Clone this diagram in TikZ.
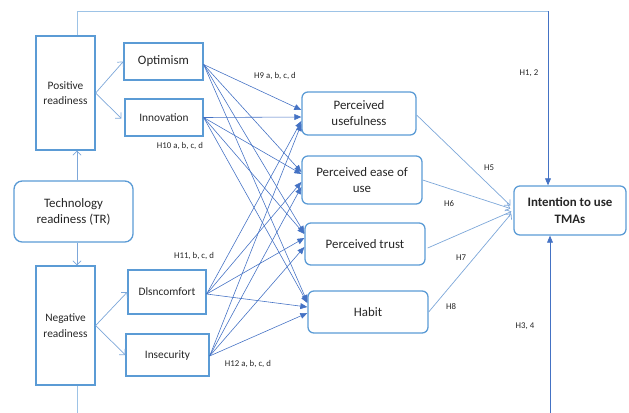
\documentclass[tikz,border=0pt]{standalone}
\usepackage{fontspec}
\setmainfont{Carlito}
\usetikzlibrary{arrows.meta,calc}
\definecolor{boxc}{HTML}{5B9BD5}
\definecolor{linec}{HTML}{4472C4}
\definecolor{lightc}{HTML}{9DC3E6}
\definecolor{midc}{HTML}{7DA7D9}
\definecolor{txt}{HTML}{262626}
\begin{document}
\begin{tikzpicture}[x=0.03cm,y=-0.03cm,
  sz/.style 2 args={minimum width=#1*0.03cm, minimum height=#2*0.03cm},
  box/.style={draw=boxc, line width=1.1pt, inner sep=0pt, align=center, text=txt, font=\fontsize{9.7}{13.4}\selectfont},
  rbox/.style={box, rounded corners=5pt, font=\fontsize{11}{13.7}\selectfont},
  big/.style={font=\fontsize{11}{13.7}\selectfont},
  lab/.style={text=txt, font=\fontsize{7.5}{9}\selectfont, inner sep=0pt},
  rel/.style={draw=linec, line width=0.5pt, -{Triangle[length=6pt,width=5pt]}},
  oarrow/.style={draw=midc, line width=0.6pt, -{Straight Barb[length=3.5pt,width=7pt]}},
  farrow/.style={draw=linec, line width=0.7pt, -{Triangle[length=6pt,width=5pt]}}
]
\clip (0,0) rectangle (629,412);
\useasboundingbox (0,0) rectangle (629,412);

% nodes
\node[box, sz={59}{114}] (pos) at (65.5,93) {Positive\\readiness};
\node[box, big, sz={79}{37}] (opt) at (163.5,61.5) {Optimism};
\node[box, sz={78}{37}] (inn) at (164,117.5) {Innovation};
\node[rbox, rounded corners=7pt, sz={119}{61}] (tr) at (73.5,211.5) {Technology\\readiness (TR)};
\node[box, sz={59}{119}] (neg) at (65.5,325.5) {Negative\\readiness};
\node[box, sz={78}{44}] (dis) at (167,292) {Dlsncomfort};
\node[box, sz={83}{42}] (ins) at (167.5,355) {Insecurity};
\node[rbox, sz={114}{43}] (pu) at (359,113.5) {Perceived\\usefulness};
\node[rbox, sz={120}{48}] (peou) at (362,180) {Perceived ease of\\use};
\node[rbox, sz={120}{42}] (pt) at (365,244) {Perceived trust};
\node[rbox, sz={120}{42}] (hab) at (368,312) {Habit};
\node[rbox, sz={112}{49}, font=\fontsize{11}{13.7}\selectfont\bfseries] (int) at (570,210.5) {Intention to use\\TMAs};

% helper coordinates
\coordinate (xl) at (77,0);
\coordinate (topc) at (548,11);
\coordinate (botc) at (550,420);

% long links
\draw[draw=lightc, line width=0.8pt] (pos.north -| xl) |- (topc);
\draw[farrow] (topc) -- (topc |- int.north);
\draw[draw=lightc, line width=0.8pt] (neg.south -| xl) |- (botc);
\draw[farrow] (botc) -- (botc |- int.south);

% TR arrows
\draw[oarrow] (tr.north -| xl) -- (pos.south -| xl);
\draw[oarrow] (tr.south -| xl) -- (neg.north -| xl);

% readiness to dimensions
\draw[oarrow] (pos.east) -- (opt.west);
\draw[oarrow] (pos.east) -- ($(inn.west)+(-3,1)$);
\draw[oarrow] (neg.east) -- (dis.west);
\draw[oarrow] (neg.east) -- (ins.west);

% dimensions to perceived
\coordinate (so) at ($(opt.east)+(0,3)$);
\coordinate (si) at ($(inn.east)+(0,0)$);
\coordinate (sd) at ($(dis.east)+(0,2)$);
\coordinate (ss) at ($(ins.east)+(0,1)$);

\draw[rel] (so) -- ($(pu.west)+(0,-3.5)$);
\draw[rel] (si) -- ($(pu.west)+(0,3.5)$);
\draw[rel] (sd) -- ($(pu.west)+(0,7.5)$);
\draw[rel] (ss) -- ($(pu.west)+(0,10.5)$);

\draw[rel] (so) -- ($(peou.west)+(0,-8)$);
\draw[rel] (si) -- ($(peou.west)+(0,-6)$);
\draw[rel] (sd) -- ($(peou.west)+(0,2)$);
\draw[rel] (ss) -- ($(peou.west)+(0,7)$);

\draw[rel] (so) -- ($(pt.west)+(0,-11)$);
\draw[rel] (si) -- ($(pt.west)+(0,-10)$);
\draw[rel] (sd) -- ($(pt.west)+(0,-6)$);
\draw[rel] (ss) -- ($(pt.west)+(0,3)$);

\draw[rel] (so) -- ($(hab.west)+(0,-10)$);
\draw[rel] (si) -- ($(hab.west)+(0,-9)$);
\draw[rel] (sd) -- ($(hab.west)+(0,-5)$);
\draw[rel] (ss) -- ($(hab.west)+(0,1)$);

% perceived to intention
\draw[oarrow] ($(pu.east)+(0,1.5)$) -- ($(int.west)+(-3,-5)$);
\draw[oarrow] (peou.east) -- ($(int.west)+(-3,-2)$);
\draw[oarrow] ($(pt.east)+(2,4)$) -- ($(int.west)+(-2,1)$);
\draw[oarrow] (hab.east) -- ($(int.west)+(-2,3)$);

% labels
\node[lab] (l9) at (275,76) {H9 a, b, c, d};
\node[lab] (l10) at (180,146) {H10 a, b, c, d};
\node[lab] (l11) at (194,256) {H11, b, c, d};
\node[lab] (l12) at (248,364) {H12 a, b, c, d};
\node[lab] (l12b) at (529,73) {H1, 2};
\node[lab] (l5) at (489,168) {H5};
\node[lab] (l6) at (449,204) {H6};
\node[lab] (l7) at (461,258) {H7};
\node[lab] (l8) at (451,307) {H8};
\node[lab] (l34) at (525,326) {H3, 4};
\end{tikzpicture}
\end{document}
